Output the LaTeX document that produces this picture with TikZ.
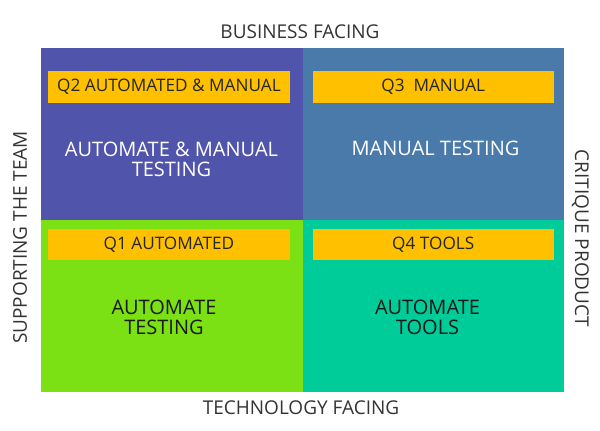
\documentclass[tikz,border=0pt]{standalone}
\usepackage{fontspec}
\setmainfont{Open Sans}
\usetikzlibrary{positioning}
\definecolor{quadpurple}{HTML}{5054AA}
\definecolor{quadblue}{HTML}{4A7AAA}
\definecolor{quadgreen}{HTML}{7BE014}
\definecolor{quadteal}{HTML}{00CC99}
\definecolor{tagyellow}{HTML}{FFC000}
\definecolor{axisgray}{HTML}{333333}
\tikzset{
  quad/.style={
    fill=#1,
    draw=none,
    inner sep=0pt,
    minimum width=261.3pt,
    minimum height=172pt,
    anchor=north west
  },
  tag/.style={
    fill=tagyellow,
    inner sep=0pt,
    minimum width=241.5pt,
    minimum height=31.6pt,
    anchor=north west,
    font=\fontsize{17.2}{19}\selectfont,
    text=black!85
  },
  maintext/.style={
    align=center,
    inner sep=0pt,
    font=\fontsize{20}{20}\selectfont
  },
  axis/.style={
    text=axisgray,
    inner sep=0pt,
    font=\fontsize{19}{21}\selectfont
  }
}

\begin{document}
\begin{tikzpicture}[x=1pt,y=-1pt]
  \useasboundingbox (0,0) rectangle (600,431);

  \node[quad=quadpurple] (q2) at (41,48) {};
  \node[quad=quadblue] (q3) at (302.3,48) {};
  \node[quad=quadgreen] (q1) at (41,220) {};
  \node[quad=quadteal] (q4) at (302.3,220) {};

  \node[tag] (q2tag) at (48,70.7) {Q2 AUTOMATED \& MANUAL};
  \node[tag] (q3tag) at (312.3,70.7) {Q3\ \ MANUAL};
  \node[tag] (q1tag) at (48,228.3) {Q1 AUTOMATED};
  \node[tag] (q4tag) at (312.3,228.3) {Q4 TOOLS};

  \node[maintext,text=white] (q2text) at (171.5,159.5) {AUTOMATE \& MANUAL\\TESTING};
  \node[maintext,text=white] (q3text) at (435.5,148) {MANUAL TESTING};
  \node[maintext,text=black!90] (q1text) at (164,317) {AUTOMATE\\TESTING};
  \node[maintext,text=black!90] (q4text) at (427.5,317) {AUTOMATE\\TOOLS};

  \node[axis] (business) at (300,32) {BUSINESS FACING};
  \node[axis] (technology) at (301,408) {TECHNOLOGY FACING};
  \node[axis,rotate=90] (supporting) at (20,237.5) {SUPPORTING THE TEAM};
  \node[axis,rotate=-90] (critique) at (580.5,238.5) {CRITIQUE PRODUCT};
\end{tikzpicture}
\end{document}
